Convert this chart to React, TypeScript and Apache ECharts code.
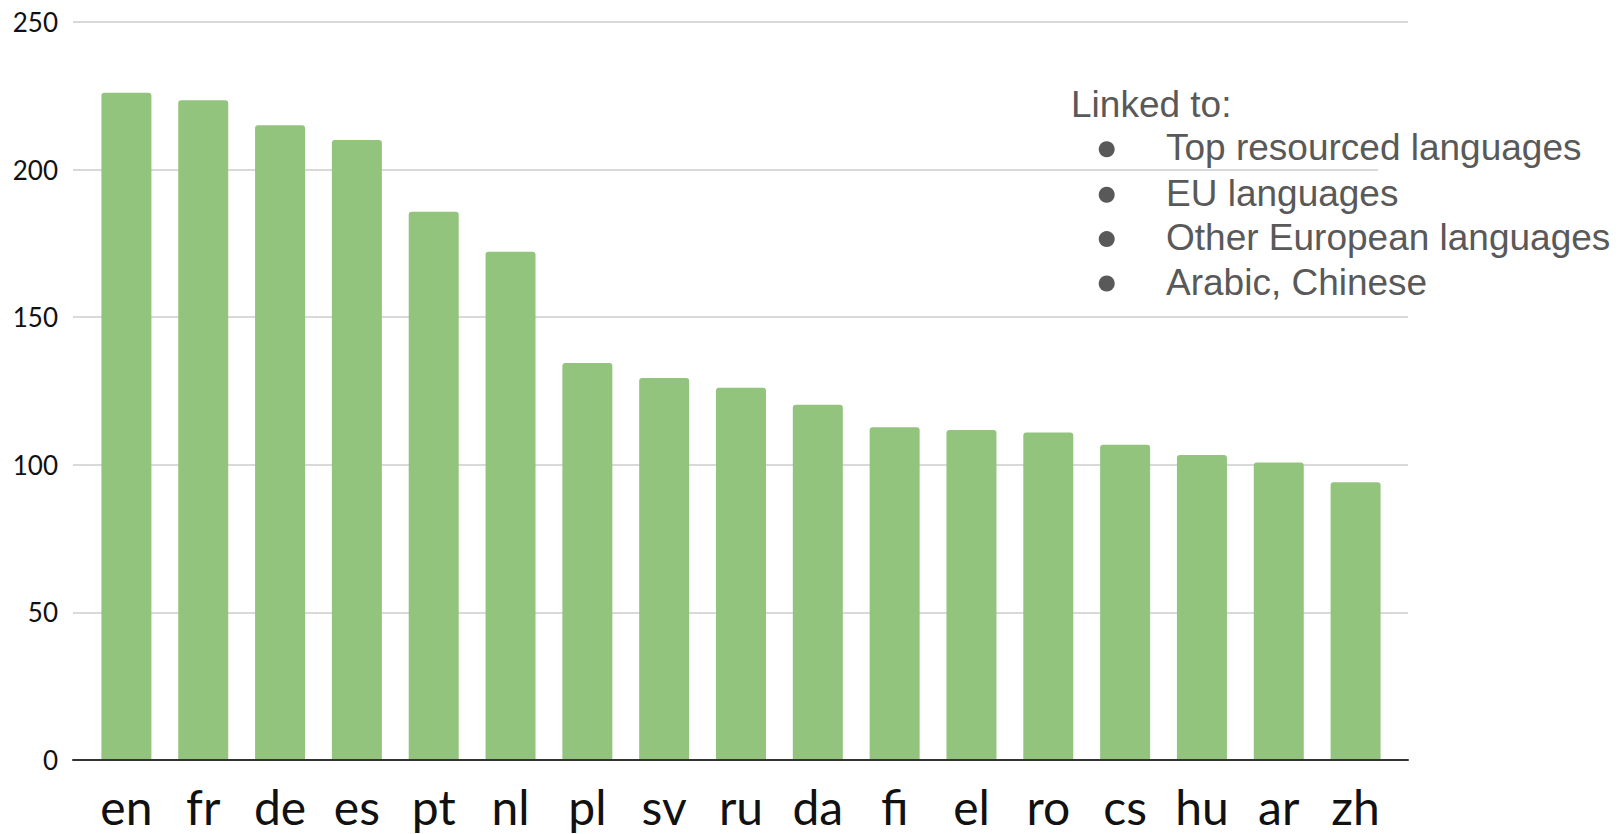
import React, { useEffect, useRef } from "react";
import * as echarts from "echarts";

const categories = ["en", "fr", "de", "es", "pt", "nl", "pl", "sv", "ru", "da", "fi", "el", "ro", "cs", "hu", "ar", "zh"];
const values = [226, 223.5, 215, 210, 185.7, 172.2, 134.5, 129.4, 126.1, 120.3, 112.7, 111.8, 110.9, 106.8, 103.3, 100.8, 94.1];
const legendTitle = "Linked to:";
const legendItems = ["Top resourced languages", "EU languages", "Other European languages", "Arabic, Chinese"];
const yMin = 0;
const yMax = 250;
const yStep = 50;

export default function App() {
  const ref = useRef<HTMLDivElement>(null);
  useEffect(() => {
    if (!ref.current) return;
    const chart = echarts.init(ref.current, undefined, { renderer: "svg" });
    const legendY = [147.7, 193.2, 237.6, 282];
    const graphics: any[] = [
      {
        type: "rect",
        shape: { x: 1378, y: 164, width: 40, height: 12 },
        style: { fill: "#ffffff" },
        z: 50,
      },
      {
        type: "text",
        x: 1071,
        y: 104.4,
        z: 60,
        style: {
          text: legendTitle,
          font: "37px 'Liberation Sans', Arial, sans-serif",
          fill: "#595959",
          verticalAlign: "middle",
          align: "left",
        },
      },
    ];
    legendItems.forEach((t, i) => {
      graphics.push({
        type: "circle",
        shape: { cx: 1106.7, cy: legendY[i] + 1.5, r: 8 },
        style: { fill: "#595959" },
        z: 60,
      });
      graphics.push({
        type: "text",
        x: 1166,
        y: legendY[i],
        z: 60,
        style: {
          text: t,
          font: "37px 'Liberation Sans', Arial, sans-serif",
          fill: "#595959",
          verticalAlign: "middle",
          align: "left",
        },
      });
    });
    chart.setOption({
      animation: false,
      backgroundColor: "#ffffff",
      grid: [
        { left: 73, right: 212, top: 22, bottom: 74 },
        { left: 88, right: 226, top: 22, bottom: 74 },
      ],
      xAxis: [
        {
          type: "category",
          gridIndex: 0,
          data: categories,
          z: 10,
          axisLine: { show: true, lineStyle: { color: "#333333", width: 2 } },
          axisTick: { show: false },
          axisLabel: { show: false },
          splitLine: { show: false },
        },
        {
          type: "category",
          gridIndex: 1,
          data: categories,
          axisLine: { show: false },
          axisTick: { show: false },
          axisLabel: {
            show: true,
            fontFamily: "Lato, sans-serif",
            fontSize: 48,
            lineHeight: 48,
            color: "#111111",
            margin: 22,
          },
        },
      ],
      yAxis: [
        {
          type: "value",
          gridIndex: 0,
          min: yMin,
          max: yMax,
          interval: yStep,
          axisLine: { show: false },
          axisTick: { show: false },
          axisLabel: {
            fontFamily: "Lato, sans-serif",
            fontSize: 26,
            color: "#111111",
            margin: 15,
          },
          splitLine: { show: true, lineStyle: { color: "#cccccc", width: 1.5 } },
        },
        {
          type: "value",
          gridIndex: 1,
          min: yMin,
          max: yMax,
          interval: yStep,
          show: false,
          splitLine: { show: false },
        },
      ],
      series: [
        {
          type: "bar",
          xAxisIndex: 1,
          yAxisIndex: 1,
          data: values,
          barWidth: 50,
          itemStyle: { color: "#93c47d", borderRadius: [3, 3, 0, 0] },
        },
      ],
      graphic: graphics,
    });
    return () => chart.dispose();
  }, []);
  return (
    <div
      ref={ref}
      style={{ position: "fixed", left: 0, top: 0, width: 1620, height: 834 }}
    />
  );
}
